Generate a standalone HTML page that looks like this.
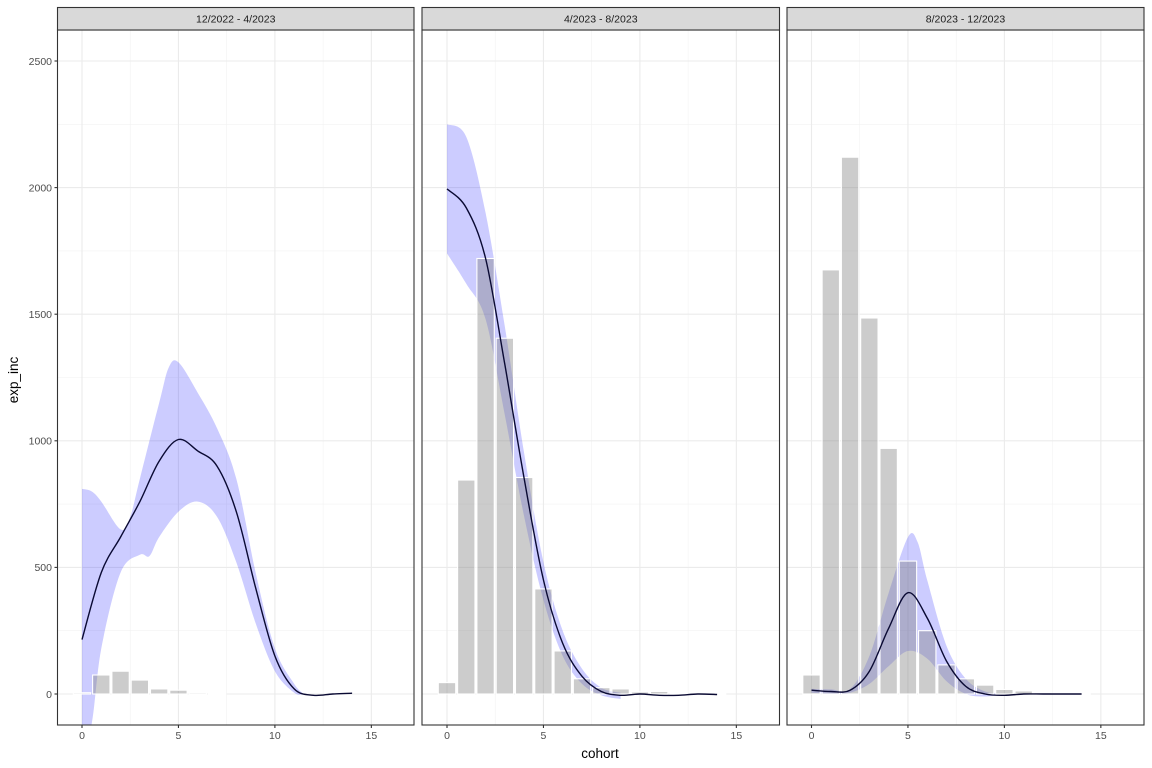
<!DOCTYPE html>
<html><head><meta charset="utf-8"><style>
html,body{margin:0;padding:0;background:#fff;}
svg{display:block;font-family:"Liberation Sans",sans-serif;}
</style></head><body>
<svg id="s" width="1152" height="768" xmlns="http://www.w3.org/2000/svg"></svg>
<script>
(function(){
var S=document.getElementById('s');
var h='';
var Y=function(v){return 694-v*0.2532;};
var T0=30,B0=725;
var panels=[
 {x0:57.5,x1:414,z:82,title:"12/2022 - 4/2023",
  bars:[5,75,90,55,20,15,5,2],
  line:[[0,215],[1,480],[2,620],[3,760],[4,920],[5,1005],[6,960],[7,900],[8,720],[9,420],[10,150],[11,20],[12,-5],[13,0],[14,3]],
  up:[[0,810],[0.5,800],[1,760],[2,650],[2.5,700],[3,850],[4,1150],[4.5,1290],[5,1310],[6,1190],[7,1050],[8,850],[9,480],[10,180],[11,40],[11.5,0]],
  lo:[[0,-200],[0.5,-120],[1,180],[2,480],[3,550],[3.5,545],[4,620],[5,720],[6,760],[7,700],[8,520],[9,280],[10,90],[11,5],[11.5,0]]},
 {x0:422,x1:779.5,z:447,title:"4/2023 - 8/2023",
  bars:[45,845,1720,1405,855,415,170,60,25,20,8,10,3,3,2],
  line:[[0,1995],[1,1920],[2,1720],[3,1300],[4,850],[5,450],[6,200],[7,70],[8,10],[9,-5],[10,0],[11,-5],[12,-5],[13,0],[14,-2]],
  up:[[0,2250],[1,2200],[2,1900],[3,1450],[4,950],[5,520],[6,250],[7,100],[8,25],[9,5]],
  lo:[[0,1740],[1,1620],[2,1480],[3,1100],[4,700],[5,370],[6,150],[7,40],[8,-5],[9,-20]]},
 {x0:787,x1:1144,z:811.5,title:"8/2023 - 12/2023",
  bars:[75,1675,2120,1485,970,525,250,115,60,35,18,12,5,3,2],
  line:[[0,15],[1,10],[2,15],[3,90],[4,260],[5,400],[6,300],[7,130],[8,30],[9,0],[10,-5],[11,0],[12,0],[13,0],[14,0]],
  up:[[0,20],[1,18],[2,20],[3,150],[4,400],[5,620],[5.5,600],[6,450],[7,190],[8,60],[9,10],[10,0]],
  lo:[[0,5],[1,2],[2,5],[3,40],[4,110],[5,170],[6,140],[7,50],[8,0],[9,-10],[10,0]]}
];
var U=19.29;
function cr(pts){
 var d='M'+pts[0][0].toFixed(1)+','+pts[0][1].toFixed(1);
 for(var i=0;i<pts.length-1;i++){
  var p0=pts[i-1]||pts[i],p1=pts[i],p2=pts[i+1],p3=pts[i+2]||p2;
  var c1=[p1[0]+(p2[0]-p0[0])/6,p1[1]+(p2[1]-p0[1])/6];
  var c2=[p2[0]-(p3[0]-p1[0])/6,p2[1]-(p3[1]-p1[1])/6];
  d+='C'+c1[0].toFixed(1)+','+c1[1].toFixed(1)+' '+c2[0].toFixed(1)+','+c2[1].toFixed(1)+' '+p2[0].toFixed(1)+','+p2[1].toFixed(1);
 }
 return d;
}
panels.forEach(function(p,i){
 var X=function(v){return p.z+v*U;};
 h+='<clipPath id="c'+i+'"><rect x="'+p.x0+'" y="'+T0+'" width="'+(p.x1-p.x0)+'" height="'+(B0-T0)+'"/></clipPath>';
 for(var v=250;v<2700;v+=500)h+='<line x1="'+p.x0+'" x2="'+p.x1+'" y1="'+Y(v)+'" y2="'+Y(v)+'" stroke="#f2f2f2" stroke-width="0.6"/>';
 [-2.5,2.5,7.5,12.5].forEach(function(v){if(X(v)>p.x0)h+='<line x1="'+X(v)+'" x2="'+X(v)+'" y1="'+T0+'" y2="'+B0+'" stroke="#f2f2f2" stroke-width="0.6"/>';});
 for(var v2=0;v2<=2500;v2+=500)h+='<line x1="'+p.x0+'" x2="'+p.x1+'" y1="'+Y(v2)+'" y2="'+Y(v2)+'" stroke="#ebebeb" stroke-width="1.1"/>';
 [0,5,10,15].forEach(function(v){h+='<line x1="'+X(v)+'" x2="'+X(v)+'" y1="'+T0+'" y2="'+B0+'" stroke="#ebebeb" stroke-width="1.1"/>';});
 var up=p.up.map(function(a){return [X(a[0]),Y(a[1])];});
 var lo=p.lo.map(function(a){return [X(a[0]),Y(a[1])];}).reverse();
 var rd=cr(up)+cr(lo).replace('M','L')+'Z';
 h+='<g clip-path="url(#c'+i+')"><path d="'+rd+'" fill="#0000ff" fill-opacity="0.2"/>';
 p.bars.forEach(function(b,k){var y=Y(b);h+='<rect x="'+(X(k)-0.45*U)+'" y="'+y+'" width="'+(0.9*U)+'" height="'+(694-y)+'" fill="#7f7f7f" fill-opacity="0.4" stroke="#fff" stroke-width="1.1"/>';});
 h+='<path d="'+cr(p.line.map(function(a){return [X(a[0]),Y(a[1])];}))+'" fill="none" stroke="#0a0a33" stroke-width="1.4"/></g>';
 h+='<rect x="'+p.x0+'" y="'+T0+'" width="'+(p.x1-p.x0)+'" height="'+(B0-T0)+'" fill="none" stroke="#333" stroke-width="1.1"/>';
 h+='<rect x="'+p.x0+'" y="7.5" width="'+(p.x1-p.x0)+'" height="22.5" fill="#d9d9d9" stroke="#333" stroke-width="1.1"/>';
 h+='<text x="'+((p.x0+p.x1)/2)+'" y="22.5" font-size="10.5" fill="#1a1a1a" text-anchor="middle">'+p.title+'</text>';
 [0,5,10,15].forEach(function(v){h+='<line x1="'+X(v)+'" x2="'+X(v)+'" y1="'+B0+'" y2="'+(B0+3)+'" stroke="#333" stroke-width="1.1"/><text x="'+X(v)+'" y="'+(B0+14)+'" font-size="10.5" fill="#4d4d4d" text-anchor="middle">'+v+'</text>';});
});
for(var v=0;v<=2500;v+=500){h+='<line x1="54.5" x2="57.5" y1="'+Y(v)+'" y2="'+Y(v)+'" stroke="#333" stroke-width="1.1"/><text x="52" y="'+(Y(v)+3.8)+'" font-size="10.5" fill="#4d4d4d" text-anchor="end">'+v+'</text>';}
h+='<text x="600" y="758" font-size="13.5" fill="#000" text-anchor="middle">cohort</text>';
h+='<text transform="translate(18,380) rotate(-90)" font-size="13.5" fill="#000" text-anchor="middle">exp_inc</text>';
S.innerHTML=h;
})();
</script>
</body></html>
